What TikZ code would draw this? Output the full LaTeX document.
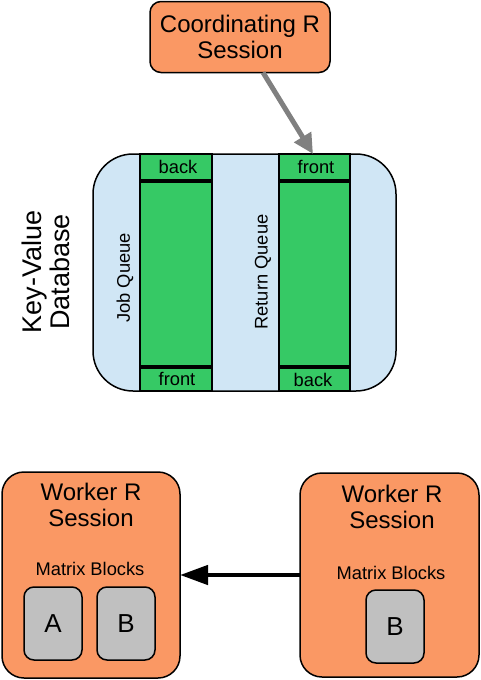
\documentclass[tikz,border=0pt]{standalone}
\usepackage{fontspec}
\setmainfont{Liberation Sans}
\usetikzlibrary{arrows.meta}
\definecolor{orng}{RGB}{250,152,100}
\definecolor{lblue}{RGB}{208,230,245}
\definecolor{qgreen}{RGB}{54,201,101}
\definecolor{blk}{RGB}{192,192,192}
\definecolor{arrgray}{RGB}{128,128,128}
\begin{document}
\begin{tikzpicture}[x=1pt,y=-1pt,
  every node/.style={inner sep=0pt, outer sep=0pt},
  orbox/.style={draw, line width=1.5pt, fill=orng, anchor=north west},
  dbbox/.style={draw, line width=1.5pt, fill=lblue, rounded corners=40pt, anchor=north west},
  colbox/.style={draw, line width=1.5pt, fill=qgreen, anchor=north west},
  blkbox/.style={draw, line width=1.5pt, fill=blk, rounded corners=10pt, anchor=north west, minimum width=58pt, minimum height=73pt},
  bigtxt/.style={align=center, font=\fontsize{24}{26.5}\selectfont},
  smltxt/.style={font=\fontsize{18.3}{21}\selectfont},
  sep/.style={line width=3.5pt}
]
\useasboundingbox (0,0) rectangle (481,680);

% coordinating session
\node[orbox, rounded corners=11pt, minimum width=180pt, minimum height=71pt] (coord) at (150,1.5) {};
\node[bigtxt] (coordt) at (240,37) {Coordinating R\\Session};

% database
\node[dbbox, minimum width=303pt, minimum height=237pt] (db) at (93,154) {};
\node[colbox, minimum width=72pt, minimum height=237pt] (jq) at (140,154) {};
\node[colbox, minimum width=71pt, minimum height=237pt] (rq) at (279,154) {};
\draw[sep] (jq.west |- 0,181) -- (jq.east |- 0,181);
\draw[sep] (jq.west |- 0,367) -- (jq.east |- 0,367);
\draw[sep] (rq.west |- 0,181) -- (rq.east |- 0,181);
\draw[sep] (rq.west |- 0,367) -- (rq.east |- 0,367);
\node[smltxt] (jqb) at (178,167) {back};
\node[smltxt] (jqf) at (177,379) {front};
\node[smltxt] (rqf) at (316,167) {front};
\node[smltxt] (rqb) at (313,380) {back};
\node[smltxt, rotate=90] (jql) at (125,278) {Job Queue};
\node[smltxt, rotate=90] (rql) at (263,272) {Return Queue};
\node[rotate=90, align=center, font=\fontsize{27}{28}\selectfont] (kv) at (46,272) {Key-Value\\Database};

% gray arrow
\draw[arrgray, line width=5pt, -{Triangle[length=20pt,width=19pt]}]
  ([xshift=23pt]coord.south) -- ([xshift=68.5pt]db.north);

% workers
\node[orbox, rounded corners=22pt, minimum width=178pt, minimum height=206pt] (lw) at (2,472) {};
\node[orbox, rounded corners=22pt, minimum width=179pt, minimum height=204pt] (rw) at (300,473) {};
\node[bigtxt] (lwt) at (91,505) {Worker R\\Session};
\node[bigtxt] (rwt) at (392,507) {Worker R\\Session};
\node[smltxt] (lmb) at (90,569) {Matrix Blocks};
\node[smltxt] (rmb) at (391,573) {Matrix Blocks};
\node[blkbox] (ba) at (24,587) {};
\node[blkbox] (bb) at (97,587) {};
\node[blkbox] (bc) at (366,590) {};
\node[font=\fontsize{26}{28}\selectfont] (bat) at (ba.center) {A};
\node[font=\fontsize{26}{28}\selectfont] (bbt) at (bb.center) {B};
\node[font=\fontsize{26}{28}\selectfont] (bct) at (bc.center) {B};

% black arrow
\draw[black, line width=4.5pt, -{Triangle[length=28pt,width=19pt]}] (rw.west) -- (lw.east);
\end{tikzpicture}
\end{document}
